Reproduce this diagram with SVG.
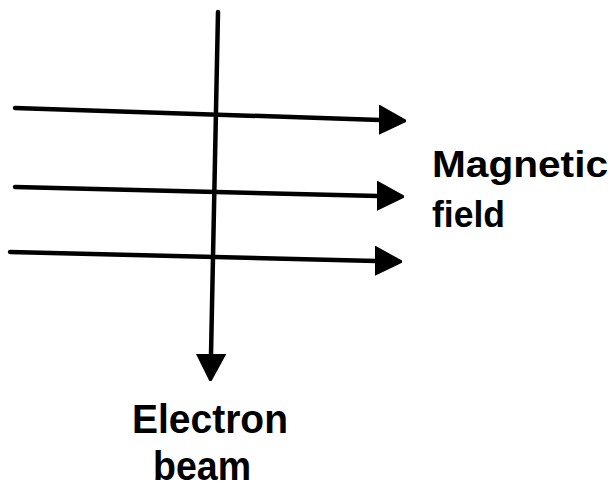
<svg xmlns="http://www.w3.org/2000/svg" width="615" height="490" viewBox="0 0 615 490">
  <style>
    .line { stroke: #000; stroke-width: 4.5; fill: none; stroke-linecap: round; }
    .lbl { font-family: "Liberation Sans", Arial, Helvetica, sans-serif; font-weight: bold; font-size: 37px; fill: #000; }
    .big { font-size: 41px; }
  </style>
  <defs>
    <marker id="head" viewBox="0 0 27 30" markerWidth="27" markerHeight="30" refX="1" refY="15" orient="auto" markerUnits="userSpaceOnUse">
      <path d="M0,1 L27,15 L0,29 Z" fill="#000" stroke="#000" stroke-width="2" stroke-linejoin="round"/>
    </marker>
  </defs>
  <rect width="615" height="490" fill="#fff"/>
  <g id="connectors">
    <path id="field-line-1" class="line" d="M15,108 L380,120" marker-end="url(#head)"/>
    <path id="field-line-2" class="line" d="M15,187 L378,196" marker-end="url(#head)"/>
    <path id="field-line-3" class="line" d="M10,252 L376,261" marker-end="url(#head)"/>
    <path id="electron-beam" class="line" d="M218,12 L211,355" marker-end="url(#head)"/>
  </g>
  <g id="label-magnetic-field">
    <text class="lbl" x="432" y="177" textLength="176" lengthAdjust="spacingAndGlyphs">Magnetic</text>
    <text class="lbl" x="432" y="227" textLength="73" lengthAdjust="spacingAndGlyphs">field</text>
  </g>
  <g id="label-electron-beam">
    <text class="lbl big" x="132" y="433" textLength="156" lengthAdjust="spacingAndGlyphs">Electron</text>
    <text class="lbl big" x="153" y="480" textLength="98" lengthAdjust="spacingAndGlyphs">beam</text>
  </g>
</svg>
